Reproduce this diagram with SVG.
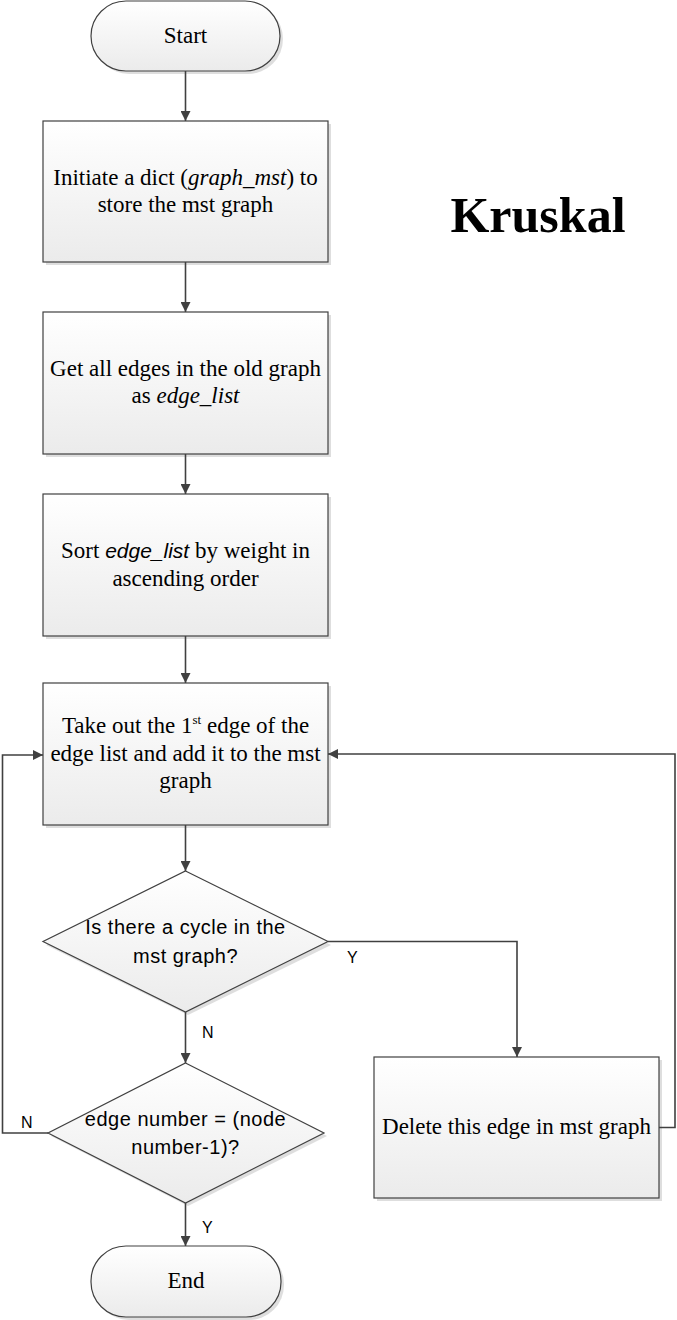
<svg xmlns="http://www.w3.org/2000/svg" width="677" height="1320" viewBox="0 0 677 1320">
<style>
.box{stroke:#404040;stroke-width:1.2;fill:url(#g)}
.sh{fill:#d0d0d0;stroke:none;opacity:0.7}
.t{font-family:"Liberation Serif","Times New Roman",serif;font-size:23px;fill:#000;text-anchor:middle}
.d{font-family:"Liberation Sans",Arial,sans-serif;font-size:20px;letter-spacing:0.5px;fill:#000;text-anchor:middle}
.l{font-family:"Liberation Sans",Arial,sans-serif;font-size:16px;fill:#000}
.c{fill:none;stroke:#404040;stroke-width:1.6}
</style>
<defs>
<linearGradient id="g" x1="0" y1="0" x2="0" y2="1">
<stop offset="0" stop-color="#ffffff"/>
<stop offset="1" stop-color="#ebebeb"/>
</linearGradient>
<marker id="a" viewBox="0 0 10 10" refX="10" refY="5" markerWidth="10" markerHeight="10" markerUnits="userSpaceOnUse" orient="auto">
<path d="M0,0 L10,5 L0,10 z" fill="#404040"/>
</marker>
</defs>
<rect width="677" height="1320" fill="#fff"/>

<g id="title"><text x="538" y="232" font-family="'Liberation Serif','Times New Roman',serif" font-weight="bold" font-size="50" text-anchor="middle">Kruskal</text></g>

<g id="start">
<rect class="sh" x="94" y="4" width="189" height="70" rx="35"/>
<rect class="box" x="91" y="1" width="189" height="70" rx="35"/>
<text class="t" x="185.5" y="43">Start</text>
</g>

<g id="n1">
<rect class="sh" x="46" y="124" width="285" height="141"/>
<rect class="box" x="43" y="121" width="285" height="141"/>
<text class="t" x="185.5" y="185">Initiate a dict (<tspan font-style="italic">graph_mst</tspan>) to</text>
<text class="t" x="185.5" y="212">store the mst graph</text>
</g>

<g id="n2">
<rect class="sh" x="46" y="315" width="285" height="142"/>
<rect class="box" x="43" y="312" width="285" height="142"/>
<text class="t" x="185.5" y="376">Get all edges in the old graph</text>
<text class="t" x="185.5" y="403">as <tspan font-style="italic">edge_list</tspan></text>
</g>

<g id="n3">
<rect class="sh" x="46" y="497" width="285" height="142"/>
<rect class="box" x="43" y="494" width="285" height="142"/>
<text class="t" x="185.5" y="558">Sort <tspan font-family="'Liberation Sans',Arial,sans-serif" font-style="italic" font-size="21">edge_list</tspan> by weight in</text>
<text class="t" x="185.5" y="586">ascending order</text>
</g>

<g id="n4">
<rect class="sh" x="46" y="686" width="285" height="142"/>
<rect class="box" x="43" y="683" width="285" height="142"/>
<text class="t" x="185.5" y="733">Take out the 1<tspan font-size="13" dy="-9">st</tspan><tspan dy="9"> edge of the</tspan></text>
<text class="t" x="185.5" y="761">edge list and add it to the mst</text>
<text class="t" x="185.5" y="788">graph</text>
</g>

<g id="d1">
<polygon class="sh" points="188,874 331,945 188,1015 46,945"/>
<polygon class="box" points="185.5,871 328,941.5 185.5,1012 43,941.5"/>
<text class="d" x="185.5" y="934">Is there a cycle in the</text>
<text class="d" x="185.5" y="963">mst graph?</text>
</g>

<g id="d2">
<polygon class="sh" points="188,1066 327,1136 188,1206 51,1136"/>
<polygon class="box" points="185.5,1063 324,1133 185.5,1203 48,1133"/>
<text class="d" x="185.5" y="1126">edge number = (node</text>
<text class="d" x="185.5" y="1154">number-1)?</text>
</g>

<g id="del">
<rect class="sh" x="377" y="1060" width="285" height="141"/>
<rect class="box" x="374" y="1057" width="285" height="141"/>
<text class="t" x="516.5" y="1134">Delete this edge in mst graph</text>
</g>

<g id="end">
<rect class="sh" x="94" y="1249" width="190" height="71" rx="35"/>
<rect class="box" x="91" y="1246" width="190" height="71" rx="35"/>
<text class="t" x="186" y="1288">End</text>
</g>

<g id="connectors">
<path class="c" d="M185.5,71 V121" marker-end="url(#a)"/>
<path class="c" d="M185.5,262 V312" marker-end="url(#a)"/>
<path class="c" d="M185.5,454 V494" marker-end="url(#a)"/>
<path class="c" d="M185.5,636 V683" marker-end="url(#a)"/>
<path class="c" d="M185.5,825 V871" marker-end="url(#a)"/>
<path class="c" d="M185.5,1012 V1063" marker-end="url(#a)"/>
<path class="c" d="M185.5,1203 V1246" marker-end="url(#a)"/>
<path class="c" d="M328,941.5 H517 V1057" marker-end="url(#a)"/>
<path class="c" d="M659,1127.5 H675 V754 H328" marker-end="url(#a)"/>
<path class="c" d="M48,1133 H2.5 V755 H43" marker-end="url(#a)"/>
<text class="l" x="347" y="963">Y</text>
<text class="l" x="202" y="1038">N</text>
<text class="l" x="21" y="1128">N</text>
<text class="l" x="202" y="1233">Y</text>
</g>
</svg>
